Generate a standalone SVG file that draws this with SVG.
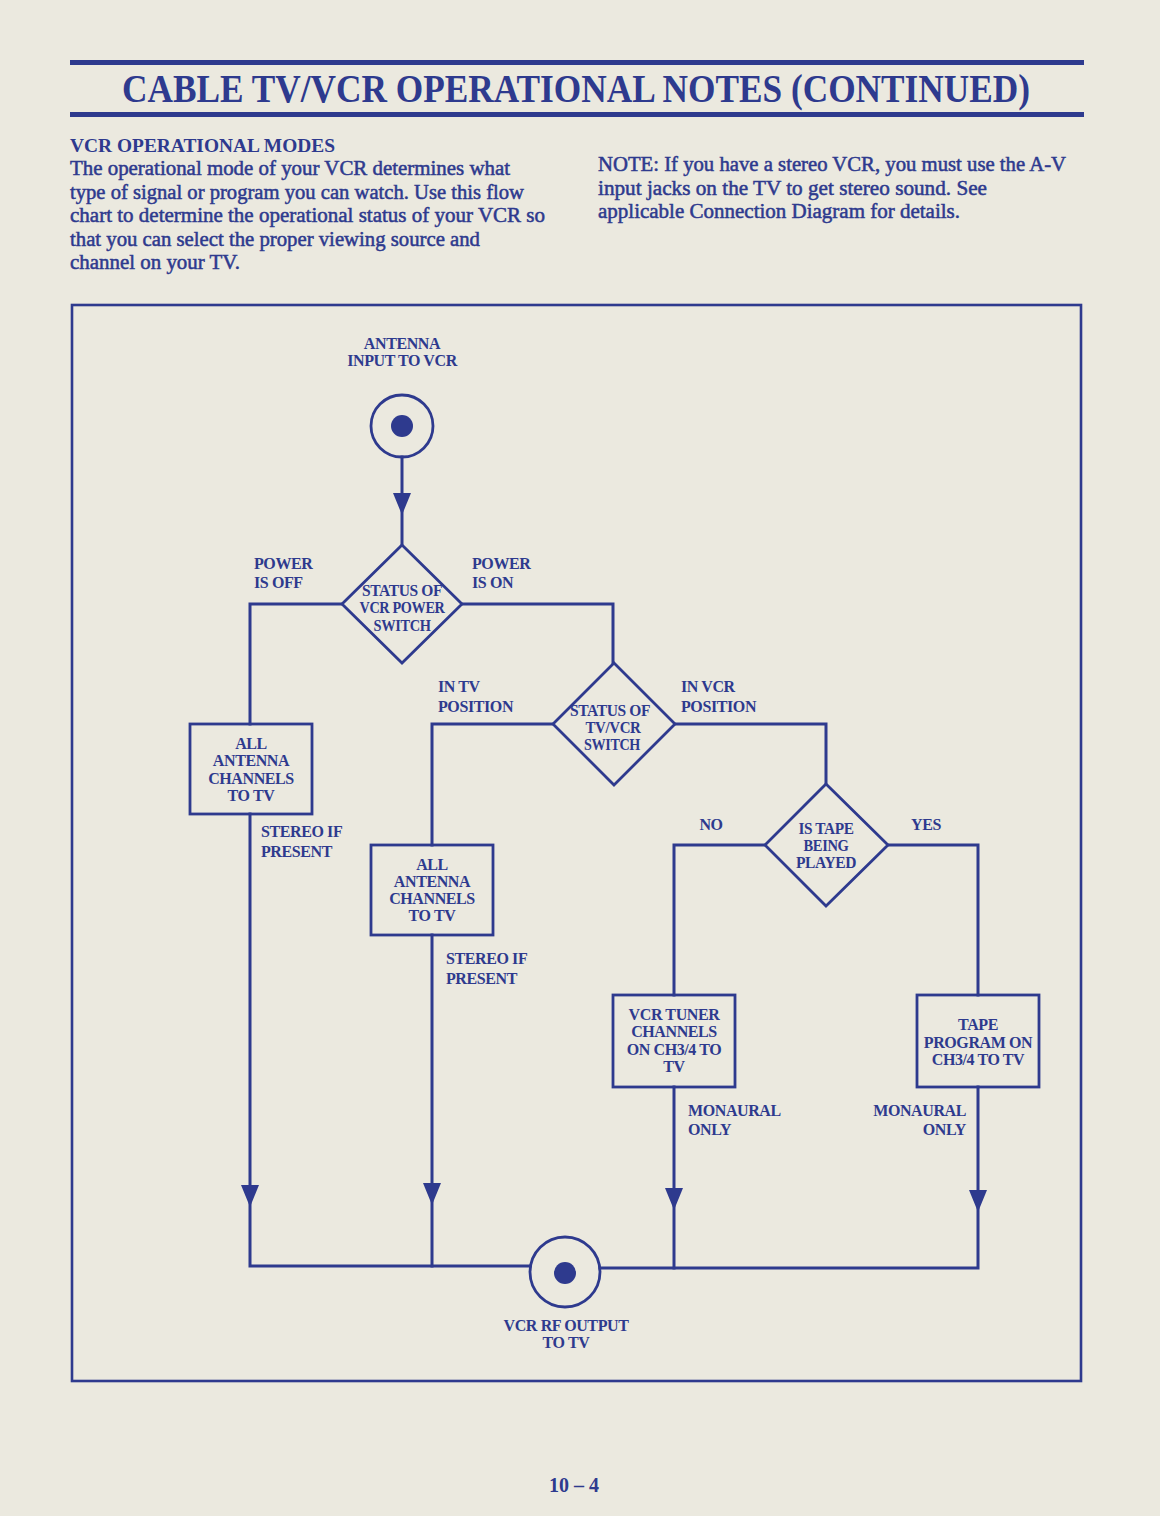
<svg xmlns="http://www.w3.org/2000/svg" width="1160" height="1516" viewBox="0 0 1160 1516">
<style>
.ink{fill:#2e3a8e}
.ln{stroke:#2e3a8e;stroke-width:3;fill:none;stroke-linecap:square}
.bx{stroke:#2e3a8e;stroke-width:2.8;fill:none}
.lb{font-family:"Liberation Serif",serif;font-weight:bold;font-size:16px;fill:#2e3a8e;letter-spacing:-0.4px}
.mid{text-anchor:middle}
.body{font-family:"Liberation Serif",serif;font-size:20px;fill:#2e3a8e;stroke:#2e3a8e;stroke-width:0.5}
</style>
<defs>
<path id="arr" d="M-9,0 L9,0 L0,22 Z" fill="#2e3a8e"/>
</defs>
<rect x="0" y="0" width="1160" height="1516" fill="#ebe9df"/>

<g id="header">
<rect x="70" y="60" width="1014" height="5" class="ink"/>
<rect x="70" y="112" width="1014" height="5" class="ink"/>
<text x="122" y="102" textLength="908" lengthAdjust="spacingAndGlyphs" style="font-family:'Liberation Serif',serif;font-weight:bold;font-size:39px;fill:#2e3a8e">CABLE TV/VCR OPERATIONAL NOTES (CONTINUED)</text>
</g>

<g id="intro">
<text x="70" y="152" textLength="265" lengthAdjust="spacingAndGlyphs" style="font-family:'Liberation Serif',serif;font-weight:bold;font-size:19px;fill:#2e3a8e">VCR OPERATIONAL MODES</text>
<text class="body" x="70" y="175" textLength="440" lengthAdjust="spacingAndGlyphs">The operational mode of your VCR determines what</text>
<text class="body" x="70" y="198.5" textLength="454" lengthAdjust="spacingAndGlyphs">type of signal or program you can watch.  Use this flow</text>
<text class="body" x="70" y="222" textLength="475" lengthAdjust="spacingAndGlyphs">chart to determine the operational status of your VCR so</text>
<text class="body" x="70" y="245.5" textLength="410" lengthAdjust="spacingAndGlyphs">that you can select the proper viewing source and</text>
<text class="body" x="70" y="269" textLength="170" lengthAdjust="spacingAndGlyphs">channel on your TV.</text>
</g>

<g id="note">
<text class="body" x="598" y="171" textLength="468" lengthAdjust="spacingAndGlyphs">NOTE:  If you have a stereo VCR, you must use the A-V</text>
<text class="body" x="598" y="195" textLength="389" lengthAdjust="spacingAndGlyphs">input jacks on the TV to get stereo sound.  See</text>
<text class="body" x="598" y="218" textLength="362" lengthAdjust="spacingAndGlyphs">applicable Connection Diagram for details.</text>
</g>

<g id="frame">
<rect x="72" y="305" width="1009" height="1076" fill="none" stroke="#2e3a8e" stroke-width="2.6"/>
</g>

<g id="connectors">
<line class="ln" x1="402" y1="457" x2="402" y2="545"/>
<use href="#arr" x="402" y="493"/>
<polyline class="ln" points="342,604 250,604 250,724"/>
<polyline class="ln" points="462,604 613,604 613,663"/>
<polyline class="ln" points="553,724 432,724 432,845"/>
<polyline class="ln" points="675,724 826,724 826,784"/>
<polyline class="ln" points="765,845 674,845 674,995"/>
<polyline class="ln" points="888,845 978,845 978,995"/>
<polyline class="ln" points="250,814 250,1266 530,1266"/>
<line class="ln" x1="432" y1="935" x2="432" y2="1266"/>
<polyline class="ln" points="600,1268 978,1268 978,1087"/>
<line class="ln" x1="674" y1="1087" x2="674" y2="1268"/>
<use href="#arr" x="250" y="1185"/>
<use href="#arr" x="432" y="1183"/>
<use href="#arr" x="674" y="1188"/>
<use href="#arr" x="978" y="1190"/>
</g>

<g id="antenna-input">
<circle cx="402" cy="426" r="31" class="bx"/>
<circle cx="402" cy="426" r="11" class="ink"/>
<text class="lb mid" x="402" y="349">ANTENNA</text>
<text class="lb mid" x="402" y="366">INPUT TO VCR</text>
</g>

<g id="power-switch">
<polygon class="bx" points="402,545 462,604 402,663 342,604"/>
<text class="lb mid" x="402" y="596" textLength="80" lengthAdjust="spacingAndGlyphs">STATUS OF</text>
<text class="lb mid" x="402" y="613" textLength="85" lengthAdjust="spacingAndGlyphs">VCR POWER</text>
<text class="lb mid" x="402" y="631" textLength="57" lengthAdjust="spacingAndGlyphs">SWITCH</text>
</g>
<g id="power-labels">
<text class="lb" x="254" y="569">POWER</text>
<text class="lb" x="254" y="588">IS OFF</text>
<text class="lb" x="472" y="569">POWER</text>
<text class="lb" x="472" y="588">IS ON</text>
</g>

<g id="tvvcr-switch">
<polygon class="bx" points="614,663 675,724 614,785 553,724"/>
<text class="lb mid" x="610" y="716" textLength="80" lengthAdjust="spacingAndGlyphs">STATUS OF</text>
<text class="lb mid" x="613" y="733" textLength="55" lengthAdjust="spacingAndGlyphs">TV/VCR</text>
<text class="lb mid" x="612" y="750" textLength="56" lengthAdjust="spacingAndGlyphs">SWITCH</text>
</g>
<g id="switch-labels">
<text class="lb" x="438" y="692">IN TV</text>
<text class="lb" x="438" y="712">POSITION</text>
<text class="lb" x="681" y="692">IN VCR</text>
<text class="lb" x="681" y="712">POSITION</text>
</g>

<g id="tape-played">
<polygon class="bx" points="826,784 888,845 826,906 765,845"/>
<text class="lb mid" x="826" y="834" textLength="55" lengthAdjust="spacingAndGlyphs">IS TAPE</text>
<text class="lb mid" x="826" y="851" textLength="45" lengthAdjust="spacingAndGlyphs">BEING</text>
<text class="lb mid" x="826" y="868" textLength="60" lengthAdjust="spacingAndGlyphs">PLAYED</text>
</g>
<g id="tape-labels">
<text class="lb mid" x="711" y="830">NO</text>
<text class="lb mid" x="926" y="830">YES</text>
</g>

<g id="box-power-off">
<rect class="bx" x="190" y="724" width="122" height="90"/>
<text class="lb mid" x="251" y="749">ALL</text>
<text class="lb mid" x="251" y="766">ANTENNA</text>
<text class="lb mid" x="251" y="784">CHANNELS</text>
<text class="lb mid" x="251" y="801">TO TV</text>
</g>
<g id="stereo-1">
<text class="lb" x="261" y="837">STEREO IF</text>
<text class="lb" x="261" y="857">PRESENT</text>
</g>

<g id="box-tv-position">
<rect class="bx" x="371" y="845" width="122" height="90"/>
<text class="lb mid" x="432" y="870">ALL</text>
<text class="lb mid" x="432" y="887">ANTENNA</text>
<text class="lb mid" x="432" y="904">CHANNELS</text>
<text class="lb mid" x="432" y="921">TO TV</text>
</g>
<g id="stereo-2">
<text class="lb" x="446" y="964">STEREO IF</text>
<text class="lb" x="446" y="984">PRESENT</text>
</g>

<g id="box-vcr-tuner">
<rect class="bx" x="613" y="995" width="122" height="92"/>
<text class="lb mid" x="674" y="1020">VCR TUNER</text>
<text class="lb mid" x="674" y="1037">CHANNELS</text>
<text class="lb mid" x="674" y="1055">ON CH3/4 TO</text>
<text class="lb mid" x="674" y="1072">TV</text>
</g>
<g id="monaural-1">
<text class="lb" x="688" y="1116">MONAURAL</text>
<text class="lb" x="688" y="1135">ONLY</text>
</g>

<g id="box-tape-program">
<rect class="bx" x="917" y="995" width="122" height="92"/>
<text class="lb mid" x="978" y="1030">TAPE</text>
<text class="lb mid" x="978" y="1048">PROGRAM ON</text>
<text class="lb mid" x="978" y="1065">CH3/4 TO TV</text>
</g>
<g id="monaural-2">
<text class="lb" x="966" y="1116" text-anchor="end">MONAURAL</text>
<text class="lb" x="966" y="1135" text-anchor="end">ONLY</text>
</g>

<g id="rf-output">
<circle cx="565" cy="1272" r="35" class="bx"/>
<circle cx="565" cy="1273" r="11" class="ink"/>
<text class="lb mid" x="566" y="1331">VCR RF OUTPUT</text>
<text class="lb mid" x="566" y="1348">TO TV</text>
</g>

<g id="page-number">
<text x="574" y="1492" text-anchor="middle" style="font-family:'Liberation Serif',serif;font-weight:bold;font-size:20px;fill:#2e3a8e">10 – 4</text>
</g>
</svg>
